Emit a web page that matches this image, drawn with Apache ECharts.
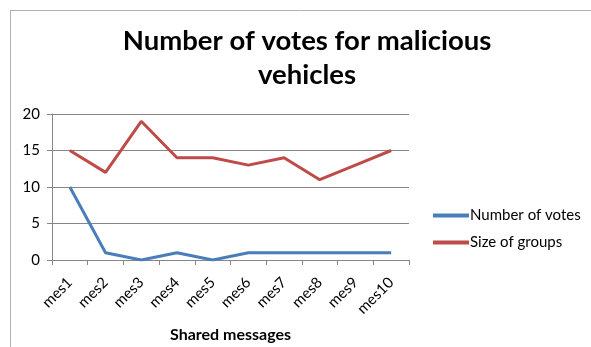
<!DOCTYPE html>
<html>
<head>
<meta charset="utf-8">
<script src="https://cdn.jsdelivr.net/npm/echarts@6/dist/echarts.min.js"></script>
<style>
  html, body { margin: 0; padding: 0; background: #fff; }
  #chart { width: 591px; height: 347px; }
</style>
</head>
<body>
<div id="chart"></div>
<script>
// Categories and series values
const categories = ['mes1', 'mes2', 'mes3', 'mes4', 'mes5', 'mes6', 'mes7', 'mes8', 'mes9', 'mes10'];
const numberOfVotes = [10, 1, 0, 1, 0, 1, 1, 1, 1, 1];
const sizeOfGroups = [15, 12, 19, 14, 14, 13, 14, 11, 13, 15];
const yTicks = [0, 5, 10, 15, 20];

const FONT = 'Lato, "Open Sans", sans-serif';

const chart = echarts.init(document.getElementById('chart'), null, { renderer: 'canvas' });

chart.setOption({
  animation: false,
  backgroundColor: '#ffffff',
  title: {
    text: 'Number of votes for malicious\nvehicles',
    left: 302,
    textAlign: 'center',
    top: 19,
    textStyle: {
      fontFamily: FONT,
      fontWeight: 'bold',
      fontSize: 27.5,
      lineHeight: 34,
      color: '#000'
    }
  },
  graphic: [
    { type: 'line', shape: { x1: 10, y1: 10.5, x2: 591, y2: 10.5 }, style: { stroke: '#b0b0b0', lineWidth: 1 } },
    { type: 'line', shape: { x1: 10.5, y1: 10, x2: 10.5, y2: 347 }, style: { stroke: '#b0b0b0', lineWidth: 1 } }
  ],
  legend: {
    orient: 'vertical',
    left: 428,
    top: 203,
    itemGap: 12,
    itemWidth: 36,
    itemHeight: 4,
    icon: 'rect',
    textStyle: { fontFamily: FONT, fontSize: 15, color: '#000', padding: [0, 0, 0, -4] },
    data: ['Number of votes', 'Size of groups']
  },
  grid: { left: 52, right: 182, top: 114, bottom: 87, containLabel: false },
  xAxis: {
    type: 'category',
    data: categories,
    boundaryGap: true,
    name: 'Shared messages',
    nameLocation: 'middle',
    nameGap: 67,
    nameTextStyle: { fontFamily: FONT, fontWeight: 'bold', fontSize: 16, color: '#000' },
    axisLine: { lineStyle: { color: '#868686', width: 1 } },
    axisTick: { show: true, alignWithLabel: false, length: 5, lineStyle: { color: '#868686' } },
    axisLabel: { rotate: 45, fontFamily: FONT, fontSize: 15, color: '#000', margin: 20, interval: 0 }
  },
  yAxis: {
    type: 'value',
    min: yTicks[0],
    max: yTicks[yTicks.length - 1],
    interval: 5,
    axisLine: { show: true, lineStyle: { color: '#868686', width: 1 } },
    axisTick: { show: true, length: 5, lineStyle: { color: '#868686' } },
    axisLabel: { fontFamily: FONT, fontSize: 15, color: '#000', margin: 12 },
    splitLine: { lineStyle: { color: '#868686', width: 1 } }
  },
  series: [
    {
      name: 'Number of votes',
      type: 'line',
      data: numberOfVotes,
      symbol: 'none',
      color: '#4a7ebb',
      lineStyle: { width: 3, color: '#4a7ebb' }
    },
    {
      name: 'Size of groups',
      type: 'line',
      data: sizeOfGroups,
      symbol: 'none',
      color: '#be4b48',
      lineStyle: { width: 3, color: '#be4b48' }
    }
  ]
});
</script>
</body>
</html>
